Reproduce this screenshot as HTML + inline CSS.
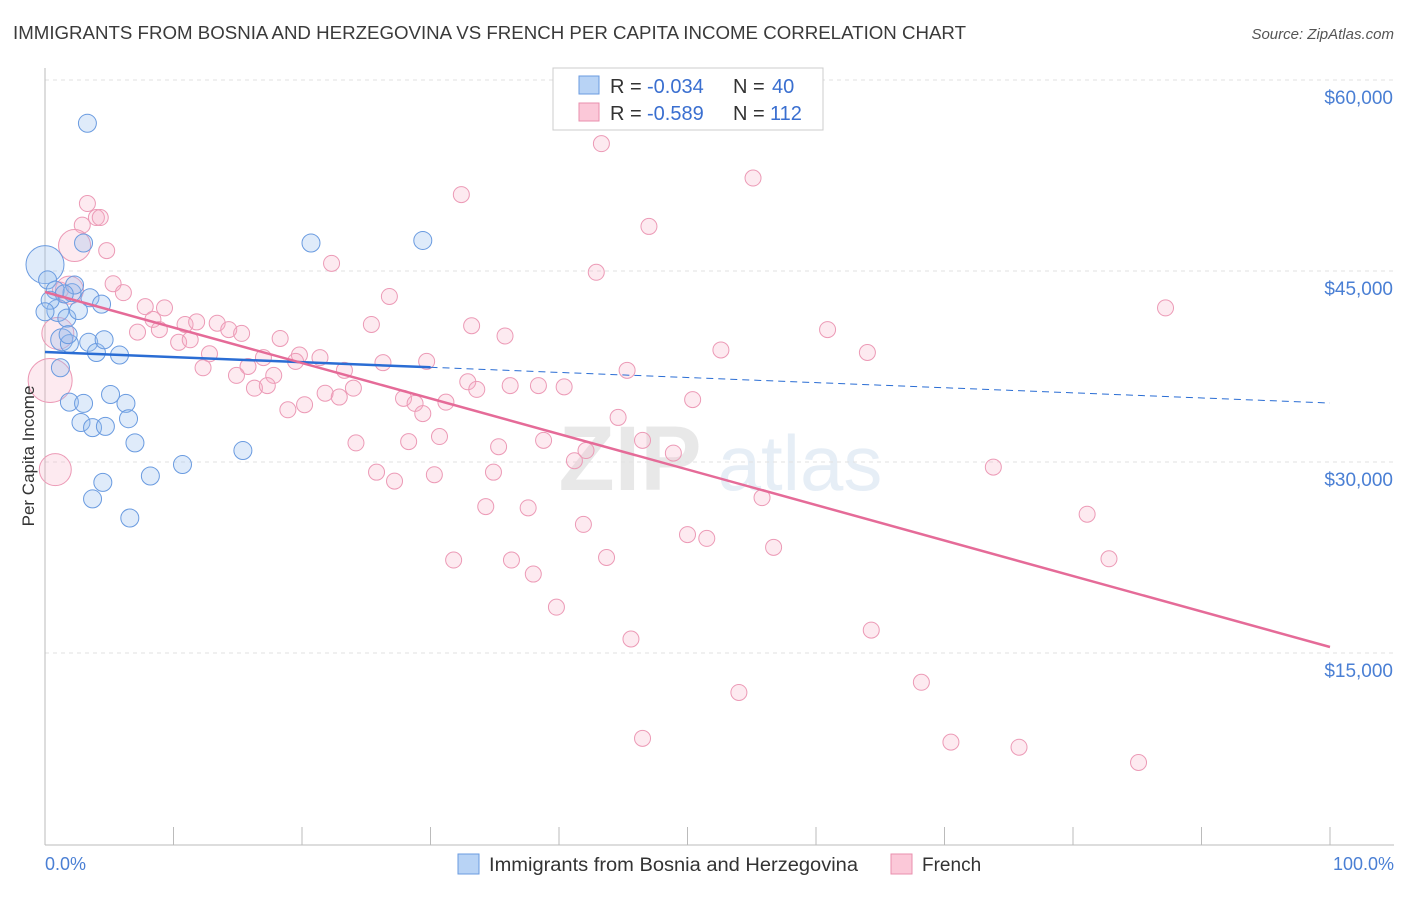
<!DOCTYPE html>
<html><head><meta charset="utf-8"><style>
body{margin:0;background:#fff;font-family:"Liberation Sans",sans-serif;}
svg text{font-family:"Liberation Sans",sans-serif;}
</style></head><body>
<svg width="1406" height="892" xmlns="http://www.w3.org/2000/svg" id="c">
<text x="13" y="39" font-size="18" fill="#3a3a3a" textLength="953" lengthAdjust="spacingAndGlyphs">IMMIGRANTS FROM BOSNIA AND HERZEGOVINA VS FRENCH PER CAPITA INCOME CORRELATION CHART</text>
<text x="1394" y="39" font-size="15" fill="#555" font-style="italic" text-anchor="end">Source: ZipAtlas.com</text>
<g opacity="0.13">
<text x="630" y="490" font-size="92" font-family="Liberation Serif" fill="#555" text-anchor="middle" font-weight="bold">ZIP</text>
<text x="800" y="490" font-size="78" fill="#4a7fc1" text-anchor="middle">atlas</text>
</g>
<g id="grid"></g>
<g id="axes"></g>
<g id="pts"></g>
<g id="trend"></g>
<text transform="translate(34,456) rotate(-90)" font-size="17" fill="#333" text-anchor="middle">Per Capita Income</text>
<text x="45" y="870" font-size="18" fill="#4a7fd4">0.0%</text>
<text x="1394" y="870" font-size="18" fill="#4a7fd4" text-anchor="end">100.0%</text>
<g>
<rect x="553" y="68" width="270" height="62" fill="#fff" stroke="#ccc"/>
<rect x="579" y="76" width="20" height="18" fill="#b8d3f5" stroke="#6a9be0"/>
<rect x="579" y="103" width="20" height="18" fill="#fbc8d8" stroke="#ea8fae"/>
<text x="610" y="93" font-size="20" fill="#333">R = </text>
<text x="647" y="93" font-size="20" fill="#3a6fd0">-0.034</text>
<text x="733" y="93" font-size="20" fill="#333">N = </text>
<text x="772" y="93" font-size="20" fill="#3a6fd0">40</text>
<text x="610" y="120" font-size="20" fill="#333">R = </text>
<text x="647" y="120" font-size="20" fill="#3a6fd0">-0.589</text>
<text x="733" y="120" font-size="20" fill="#333">N = </text>
<text x="770" y="120" font-size="20" fill="#3a6fd0">112</text>
</g>
<g>
<rect x="458" y="854" width="21" height="20" fill="#b8d3f5" stroke="#6a9be0"/>
<text x="489" y="871" font-size="19" fill="#333" textLength="369" lengthAdjust="spacingAndGlyphs">Immigrants from Bosnia and Herzegovina</text>
<rect x="891" y="854" width="21" height="20" fill="#fbc8d8" stroke="#ea8fae"/>
<text x="922" y="871" font-size="19" fill="#333">French</text>
</g>
</svg>
<script>
const yTicks=[15000,30000,45000,60000];
const yTickLabels=["$15,000","$30,000","$45,000","$60,000"];
const blueX=[3.3,3.0,20.7,29.4,0,0.2,0.8,2.1,3.5,4.4,1.0,1.7,1.3,1.9,3.4,4.0,5.8,5.1,1.9,3.0,6.3,2.8,3.7,4.7,6.5,7.0,15.4,10.7,8.2,4.5,3.7,6.6,1.2,2.3,1.5,0.4,2.6,1.8,0,4.6];
const blueY=[56.6,47.2,47.2,47.4,45.5,44.3,43.5,43.3,42.9,42.4,41.9,41.3,39.6,39.3,39.4,38.6,38.4,35.3,34.7,34.6,34.6,33.1,32.7,32.8,33.4,31.5,30.9,29.8,28.9,28.4,27.1,25.6,37.4,43.9,43.2,42.7,41.9,40.0,41.8,39.6];
const blueR=[9,9,9,9,19,9,9,9,9,9,11,9,11,9,9,9,9,9,9,9,9,9,9,9,9,9,9,9,9,9,9,9,9,9,9,9,9,9,9,9];
const pinkX=[43.3,55.1,32.4,3.3,4.0,4.3,2.9,47.0,2.3,4.8,22.3,42.9,5.3,6.1,1.2,26.8,87.2,7.8,9.3,8.4,10.9,11.8,13.4,33.2,25.4,60.9,7.2,8.9,14.3,15.3,35.8,18.3,10.4,11.3,52.6,64.0,12.8,17.0,19.8,21.4,26.3,29.7,45.3,12.3,15.8,17.8,23.3,14.9,19.5,32.9,33.6,36.2,38.4,40.4,24.0,16.3,17.3,21.8,22.9,27.9,28.8,31.2,50.4,20.2,18.9,29.4,44.6,24.2,28.3,30.7,35.3,38.8,46.5,42.1,41.2,48.9,25.8,27.2,30.3,34.9,73.8,34.3,37.6,55.8,41.9,81.1,50.0,51.5,31.8,36.3,43.7,56.7,38.0,82.8,39.8,45.6,64.3,68.2,54.0,46.5,70.5,75.8,85.1,0.8,0.4,1.0,1.9];
const pinkY=[55.0,52.3,51.0,50.3,49.2,49.2,48.6,48.5,47.0,46.6,45.6,44.9,44.0,43.3,43.5,43.0,42.1,42.2,42.1,41.2,40.8,41.0,40.9,40.7,40.8,40.4,40.2,40.4,40.4,40.1,39.9,39.7,39.4,39.6,38.8,38.6,38.5,38.2,38.4,38.2,37.8,37.9,37.2,37.4,37.5,36.8,37.2,36.8,37.9,36.3,35.7,36.0,36.0,35.9,35.8,35.8,36.0,35.4,35.1,35.0,34.6,34.7,34.9,34.5,34.1,33.8,33.5,31.5,31.6,32.0,31.2,31.7,31.7,30.9,30.1,30.7,29.2,28.5,29.0,29.2,29.6,26.5,26.4,27.2,25.1,25.9,24.3,24.0,22.3,22.3,22.5,23.3,21.2,22.4,18.6,16.1,16.8,12.7,11.9,8.3,8.0,7.6,6.4,29.4,36.4,40.1,43.5];
const pinkR=pinkX.map((v,i)=>i==8?16:(i>=103?[16,22,16,14][i-103]:8));
const blueTrend=[38640,34630];
const pinkTrend=[43350,15470];
const NS="http://www.w3.org/2000/svg";
const X=p=>45+p*12.85;
const Y=v=>653-(v-15000)/15000*191;
function mk(tag,attrs,parent){const e=document.createElementNS(NS,tag);for(const k in attrs)e.setAttribute(k,attrs[k]);document.getElementById(parent).appendChild(e);return e;}
yTicks.forEach((t,i)=>{
 const l=mk('line',{x1:45,x2:1394,y1:Y(t),y2:Y(t),stroke:'#e2e2e2','stroke-dasharray':'4,4'},'grid');
 
 
 const tx=mk('text',{x:1393,y:Y(t)+24,'font-size':19,fill:'#4a7fd4','text-anchor':'end'},'grid');
 tx.textContent=yTickLabels[i];
 
 
});
const ax=mk('line',{x1:45,x2:45,y1:68,y2:845,stroke:'#bbb'},'axes');


const bx=mk('line',{x1:45,x2:1394,y1:845,y2:845,stroke:'#bbb'},'axes');


for(let i=0;i<=10;i++){const t=mk('line',{x1:X(i*10),x2:X(i*10),y1:827,y2:845,stroke:'#bbb'},'axes');
 
 }
pinkX.forEach((x,i)=>{const c=mk('circle',{cx:X(x),cy:Y(pinkY[i]*1000),r:pinkR[i],fill:'rgba(248,170,196,0.25)',stroke:'#ec9ab6','stroke-width':1},'pts');
 
 });
blueX.forEach((x,i)=>{const c=mk('circle',{cx:X(x),cy:Y(blueY[i]*1000),r:blueR[i],fill:'rgba(150,190,240,0.3)',stroke:'#6a9be0','stroke-width':1},'pts');
 
 });
const bm=blueTrend[0]+(blueTrend[1]-blueTrend[0])*0.3;
const b1=mk('line',{x1:X(0),y1:Y(blueTrend[0]),x2:X(30),y2:Y(bm),stroke:'#2a6dd4','stroke-width':2.5},'trend');


const b2=mk('line',{x1:X(30),y1:Y(bm),x2:X(100),y2:Y(blueTrend[1]),stroke:'#2a6dd4','stroke-width':1,'stroke-dasharray':'7,5'},'trend');


const p1=mk('line',{x1:X(0),y1:Y(pinkTrend[0]),x2:X(100),y2:Y(pinkTrend[1]),stroke:'#e56b98','stroke-width':2.5},'trend');


</script>
</body></html>
